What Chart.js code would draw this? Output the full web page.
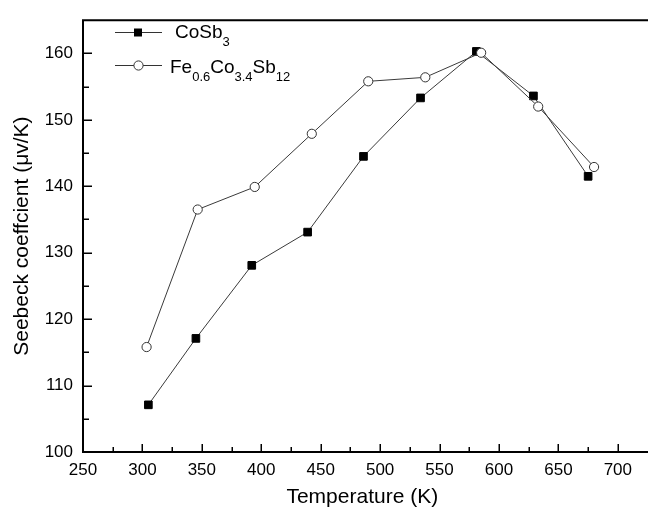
<!DOCTYPE html>
<html>
<head>
<meta charset="utf-8">
<script src="https://cdn.jsdelivr.net/npm/chart.js@4/dist/chart.umd.min.js"></script>
<style>
html,body{margin:0;padding:0;background:#fff;}
#wrap{position:relative;width:648px;height:511px;}
</style>
</head>
<body>
<div id="wrap"><canvas id="c" width="648" height="511"></canvas></div>
<script>
// ---- data ----
const tempCoSb3 = [305, 345, 392, 439, 486, 534, 581, 629, 675];
const seebeckCoSb3 = [107.1, 117.1, 128.1, 133.1, 144.5, 153.3, 160.3, 153.6, 141.5];
const tempFe = [303.5, 346.5, 394.5, 442.5, 490, 538, 585, 633, 680];
const seebeckFe = [115.8, 136.5, 139.9, 147.9, 155.8, 156.4, 160.1, 152.0, 142.9];
const xTickValues = [250, 300, 350, 400, 450, 500, 550, 600, 650, 700];
const yTickValues = [100, 110, 120, 130, 140, 150, 160];
const xMinorValues = [275, 325, 375, 425, 475, 525, 575, 625, 675];
const yMinorValues = [105, 115, 125, 135, 145, 155];
const xTitle = 'Temperature (K)';
const yTitle = 'Seebeck coeffcient (\u03bcv/K)';
const legendCoSb3 = [['CoSb', false], ['3', true]];
const legendFe = [['Fe', false], ['0.6', true], ['Co', false], ['3.4', true], ['Sb', false], ['12', true]];

const FONT = "'Liberation Sans', Arial, sans-serif";

const toPoints = (xs, ys) => xs.map((x, i) => ({x: x, y: ys[i]}));

const framePlugin = {
  id: 'frame',
  afterDatasetsDraw(chart) {
    const ctx = chart.ctx;
    const a = chart.chartArea;
    const xs = chart.scales.x, ys = chart.scales.y;
    ctx.save();
    ctx.strokeStyle = '#000';
    ctx.lineWidth = 2;
    ctx.beginPath();
    ctx.moveTo(a.left, a.top); ctx.lineTo(a.left, a.bottom);
    ctx.lineTo(chart.width, a.bottom);
    ctx.moveTo(a.left - 1, a.top); ctx.lineTo(chart.width, a.top);
    ctx.stroke();
    ctx.lineWidth = 1.5;
    ctx.beginPath();
    xTickValues.forEach(v => { const p = Math.round(xs.getPixelForValue(v)) + 0.25; ctx.moveTo(p, a.bottom); ctx.lineTo(p, a.bottom - 8); });
    xMinorValues.forEach(v => { const p = Math.round(xs.getPixelForValue(v)) + 0.25; ctx.moveTo(p, a.bottom); ctx.lineTo(p, a.bottom - 5); });
    yTickValues.forEach(v => { const p = Math.round(ys.getPixelForValue(v)) + 0.25; ctx.moveTo(a.left, p); ctx.lineTo(a.left + 9, p); });
    yMinorValues.forEach(v => { const p = Math.round(ys.getPixelForValue(v)) + 0.25; ctx.moveTo(a.left, p); ctx.lineTo(a.left + 6, p); });
    ctx.stroke();
    ctx.restore();
  },
  afterDraw(chart) {
    const ctx = chart.ctx;
    ctx.save();
    function drawRich(parts, x, baseline) {
      let cx = x;
      parts.forEach(([t, sub]) => {
        ctx.font = (sub ? '13px ' : '19px ') + FONT;
        ctx.fillStyle = '#000';
        ctx.textBaseline = 'alphabetic';
        ctx.textAlign = 'left';
        ctx.fillText(t, cx, baseline + (sub ? 8 : 0));
        cx += ctx.measureText(t).width;
      });
    }
    // row 1
    ctx.strokeStyle = '#333'; ctx.lineWidth = 1;
    ctx.beginPath(); ctx.moveTo(115, 32.5); ctx.lineTo(162, 32.5); ctx.stroke();
    ctx.fillStyle = '#000';
    ctx.fillRect(134, 28.5, 8, 8);
    drawRich(legendCoSb3, 175, 38);
    // row 2
    ctx.beginPath(); ctx.moveTo(115, 65.5); ctx.lineTo(162, 65.5); ctx.stroke();
    ctx.beginPath(); ctx.arc(138.5, 65.5, 4.6, 0, Math.PI * 2);
    ctx.fillStyle = '#fff'; ctx.fill(); ctx.strokeStyle = '#333'; ctx.stroke();
    drawRich(legendFe, 170, 72.5);
    ctx.restore();
  }
};

new Chart(document.getElementById('c'), {
  type: 'line',
  data: {
    datasets: [
      {
        label: 'CoSb3',
        data: toPoints(tempCoSb3, seebeckCoSb3),
        borderColor: '#3a3a3a',
        borderWidth: 1,
        pointStyle: 'rect',
        pointRadius: 5.4,
        pointBorderWidth: 1,
        pointBackgroundColor: '#000',
        pointBorderColor: '#000',
        order: 1,
        tension: 0
      },
      {
        label: 'Fe0.6Co3.4Sb12',
        data: toPoints(tempFe, seebeckFe),
        borderColor: '#3a3a3a',
        borderWidth: 1,
        pointStyle: 'circle',
        pointRadius: 4.6,
        pointBorderWidth: 1,
        pointBackgroundColor: '#fff',
        pointBorderColor: '#333',
        order: 0,
        tension: 0
      }
    ]
  },
  options: {
    responsive: false,
    animation: false,
    devicePixelRatio: 1,
    layout: { padding: { left: 0, top: 13, right: 0, bottom: 0 } },
    plugins: { legend: { display: false }, tooltip: { enabled: false } },
    scales: {
      x: {
        type: 'linear',
        min: 250, max: 720,
        afterBuildTicks(s) { s.ticks = xTickValues.map(v => ({value: v})); },
        afterFit(s) { s.height = 59; },
        grid: { display: false, drawTicks: false },
        border: { display: false },
        ticks: { color: '#000', font: { family: FONT, size: 17 }, padding: 8, maxRotation: 0, autoSkip: false },
        title: { display: true, text: xTitle, color: '#000', font: { family: FONT, size: 21 }, padding: { top: 0, bottom: 1 } }
      },
      y: {
        type: 'linear',
        min: 100, max: 165,
        afterBuildTicks(s) { s.ticks = yTickValues.map(v => ({value: v})); },
        afterFit(s) { s.width = 83; },
        grid: { display: false, drawTicks: false },
        border: { display: false },
        ticks: { color: '#000', font: { family: FONT, size: 17 }, padding: 10, autoSkip: false },
        title: { display: true, text: yTitle, color: '#000', font: { family: FONT, size: 21 }, padding: { top: 10, bottom: 0 } }
      }
    }
  },
  plugins: [framePlugin]
});
</script>
</body>
</html>
